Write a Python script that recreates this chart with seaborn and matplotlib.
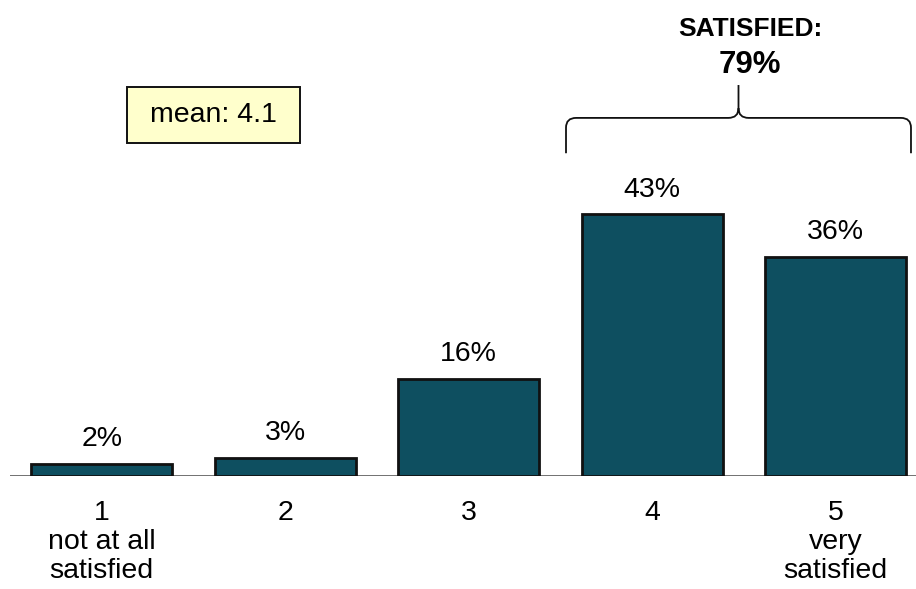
import matplotlib
matplotlib.use("Agg")
import matplotlib.pyplot as plt
from matplotlib.path import Path
from matplotlib.patches import PathPatch, Rectangle
import seaborn as sns
import pandas as pd

# Satisfaction ratings (share of respondents, %)
ratings = ["1", "2", "3", "4", "5"]
shares = [2, 3, 16, 43, 36]
tick_labels = ["1\nnot at all\nsatisfied", "2", "3", "4", "5\nvery\nsatisfied"]
mean_score = 4.1
satisfied_share = 79  # ratings 4 + 5

sns.set_theme(style="white")
plt.rcParams["font.family"] = ["Liberation Sans", "DejaVu Sans"]
plt.rcParams["text.color"] = "black"
plt.rcParams["xtick.color"] = "black"

FS = 20.5
W, H, DPI = 916, 589, 100
fig = plt.figure(figsize=(W / DPI, H / DPI), dpi=DPI)
# axes box in pixels: left 10, baseline at y=476 from top
ax = fig.add_axes([10 / W, 113 / H, 906 / W, 476 / H])

df = pd.DataFrame({"rating": ratings, "share": shares})
sns.barplot(data=df, x="rating", y="share", color="#0E4F60", saturation=1,
            width=0.77, edgecolor="#111111", linewidth=2.0, ax=ax, zorder=3)

ax.set_xlim(-0.5, -0.5 + 906 / 183.5)
ax.set_ylim(0, 476 / 6.09)

for s in ax.spines.values():
    s.set_visible(False)
ax.axhline(0, color="#666666", lw=1.3, zorder=2)

ax.set_xticks(range(len(ratings)))
ax.set_xticklabels(tick_labels, fontsize=FS, linespacing=1.17)
ax.tick_params(axis="x", length=0, pad=17)
ax.set_yticks([])
ax.set_xlabel("")
ax.set_ylabel("")

# value labels above bars
for i, v in enumerate(shares):
    ax.annotate(f"{v}%", (i, v), xytext=(0, 12.5), textcoords="offset points",
                ha="center", va="baseline", fontsize=FS, color="black")

# mean box (figure pixel coordinates)
fig.add_artist(Rectangle((127 / W, 1 - 143 / H), 173 / W, 56 / H,
                         transform=fig.transFigure, facecolor="#FFFFCC",
                         edgecolor="#111111", linewidth=1.4))
fig.text(213 / W, 1 - 115 / H, f"mean: {mean_score}", ha="center", va="center",
         fontsize=FS, color="black")

# curly bracket over ratings 4 and 5
xl, xr = 3 - 0.47, 4 + 0.41
xm = (xl + xr) / 2
y0, yh, yt = 53.0, 58.8, 64.2
rx, ry = 0.055, 1.6
verts = [
    (xl, y0), (xl, yh - ry), (xl, yh), (xl + rx, yh),
    (xm - rx, yh), (xm, yh), (xm, yh + ry), (xm, yt),
    (xm, yh + ry), (xm, yh), (xm + rx, yh),
    (xr - rx, yh), (xr, yh), (xr, yh - ry), (xr, y0),
]
codes = [
    Path.MOVETO, Path.LINETO, Path.CURVE3, Path.CURVE3,
    Path.LINETO, Path.CURVE3, Path.CURVE3, Path.LINETO,
    Path.MOVETO, Path.CURVE3, Path.CURVE3,
    Path.LINETO, Path.CURVE3, Path.CURVE3, Path.LINETO,
]
ax.add_patch(PathPatch(Path(verts, codes), fill=False, edgecolor="#111111",
                       lw=1.3, clip_on=False))

fig.text(750 / W, 1 - 26.5 / H, "SATISFIED:", ha="center", va="center_baseline",
         fontsize=19, fontweight="bold", color="black")
fig.text(750 / W, 1 - 61.5 / H, f"{satisfied_share}%", ha="center",
         va="center_baseline", fontsize=22.5, fontweight="bold", color="black")

fig.savefig("out.png", dpi=DPI, facecolor="white")
